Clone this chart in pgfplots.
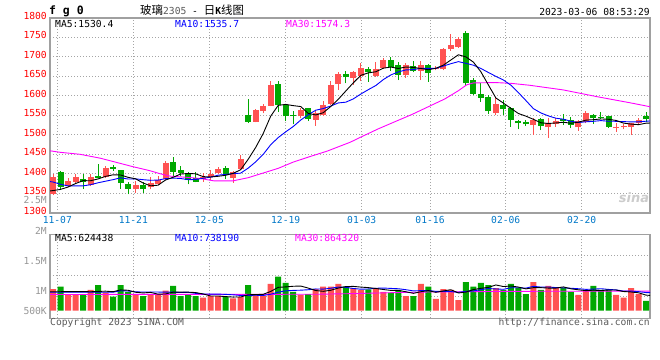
\documentclass[border=0pt]{standalone}
\usepackage{pgfplots}
\usepackage{pgfplotstable}
\pgfplotsset{compat=1.18}
\usepackage{fontspec}
\setmainfont{DejaVu Sans}
\setsansfont{DejaVu Sans}
\setmonofont{DejaVu Sans Mono}
\newfontfamily\cjk{Noto Sans CJK SC}
\definecolor{kred}{RGB}{255,82,82}
\definecolor{kgreen}{RGB}{0,168,0}
\definecolor{framec}{RGB}{160,160,160}
\definecolor{gridc}{RGB}{165,165,165}
\definecolor{lblred}{RGB}{255,0,0}
\definecolor{lblblue}{RGB}{0,120,200}
\definecolor{volgray}{RGB}{150,150,150}
\definecolor{txtgray}{RGB}{90,90,90}
\definecolor{mablue}{RGB}{0,0,255}
\definecolor{mamag}{RGB}{255,0,255}

% candles: x open high low close
\pgfplotstableread{
x o h l c
0 1347 1400 1345 1392
2 1369 1388 1365 1382
3 1380 1399 1376 1393
5 1371 1399 1368 1391
7 1391 1421 1389 1415
11 1360 1381 1352 1371
13 1366 1391 1360 1377
14 1374 1394 1371 1384
15 1386 1432 1384 1428
20 1386 1402 1380 1392
21 1392 1410 1384 1400
22 1403 1418 1400 1412
24 1390 1406 1377 1405
25 1412 1448 1410 1438
27 1534 1566 1532 1564
28 1561 1579 1555 1575
29 1575 1638 1573 1628
33 1547 1568 1542 1563
35 1538 1563 1523 1555
36 1551 1587 1548 1576
37 1579 1638 1576 1628
38 1630 1662 1616 1655
40 1646 1664 1628 1660
41 1652 1684 1638 1672
43 1652 1686 1649 1669
44 1672 1696 1669 1693
47 1653 1685 1646 1679
49 1664 1690 1640 1679
51 1668 1676 1665 1672
52 1668 1722 1665 1719
53 1719 1758 1716 1730
54 1725 1750 1723 1746
59 1555 1594 1551 1579
64 1525 1544 1500 1538
66 1521 1542 1493 1529
67 1528 1542 1521 1536
70 1519 1538 1511 1536
71 1534 1561 1529 1555
75 1517 1529 1508 1521
76 1519 1528 1514 1522
77 1521 1531 1500 1529
78 1529 1542 1525 1538
}\redK
\pgfplotstableread{
x o h l c
1 1404 1408 1362 1367
4 1387 1399 1361 1378
6 1394 1425 1388 1390
8 1417 1422 1408 1413
9 1410 1410 1362 1376
10 1374 1378 1347 1361
12 1371 1380 1352 1361
16 1430 1443 1395 1405
17 1410 1420 1395 1403
18 1401 1405 1373 1384
19 1388 1404 1378 1380
23 1416 1420 1386 1397
26 1551 1593 1530 1534
30 1630 1638 1558 1576
31 1576 1579 1535 1547
32 1551 1561 1527 1548
34 1568 1569 1535 1541
39 1656 1664 1632 1647
42 1669 1673 1636 1660
45 1692 1699 1664 1675
46 1679 1686 1640 1653
48 1676 1690 1660 1664
50 1679 1681 1636 1659
55 1762 1765 1625 1632
56 1640 1645 1603 1605
57 1605 1632 1585 1595
58 1598 1602 1553 1561
60 1576 1589 1551 1566
61 1570 1572 1521 1538
62 1535 1538 1514 1529
63 1534 1538 1522 1527
65 1540 1542 1512 1522
68 1540 1553 1525 1536
69 1538 1545 1517 1525
72 1551 1553 1528 1542
73 1546 1558 1540 1543
74 1547 1548 1517 1521
79 1549 1559 1534 1540
}\greenK

\pgfplotstableread{
x y
-0.4 1356
0 1357
1 1360
2 1366
3 1375
4 1382.4
5 1382.2
6 1386.8
7 1393.4
8 1397.4
9 1397.0
10 1391.0
11 1387.2
12 1376.4
13 1369.2
14 1370.8
15 1384.2
16 1391.0
17 1399.4
18 1400.8
19 1400.0
20 1392.8
21 1391.8
22 1393.6
23 1396.2
24 1401.2
25 1410.4
26 1437.2
27 1467.6
28 1503.2
29 1547.8
30 1575.4
31 1578.0
32 1574.8
33 1572.4
34 1555.0
35 1550.8
36 1556.6
37 1572.6
38 1591.0
39 1612.2
40 1633.2
41 1652.4
42 1658.8
43 1661.6
44 1670.8
45 1673.8
46 1670.0
47 1673.8
48 1672.8
49 1670.0
50 1666.8
51 1670.6
52 1678.6
53 1691.8
54 1705.2
55 1699.8
56 1686.4
57 1661.6
58 1627.8
59 1594.4
60 1581.2
61 1567.8
62 1554.6
63 1547.8
64 1539.6
65 1530.8
66 1529.0
67 1530.4
68 1532.2
69 1529.6
70 1532.4
71 1537.6
72 1538.8
73 1540.6
74 1539.8
75 1536.8
76 1530.0
77 1527.4
78 1526.0
79 1529.8
79.53 1530.2
}\maFive

\pgfplotstableread{
x y
-0.4 1380
0 1379
1 1373
2 1369
3 1369
4 1369
5 1372
6 1377
7 1381
8 1385
9 1389.7
10 1386.6
11 1387.0
12 1384.9
13 1383.3
14 1383.9
15 1387.6
16 1389.1
17 1387.9
18 1385.0
19 1385.4
20 1388.5
21 1391.4
22 1396.5
23 1398.5
24 1400.6
25 1401.6
26 1414.5
27 1430.6
28 1449.7
29 1474.5
30 1492.9
31 1507.6
32 1521.2
33 1537.8
34 1551.4
35 1563.1
36 1567.3
37 1573.7
38 1581.7
39 1583.6
40 1592.0
41 1604.5
42 1615.7
43 1626.3
44 1641.5
45 1653.5
46 1661.2
47 1666.3
48 1667.2
49 1670.4
50 1670.3
51 1670.3
52 1676.2
53 1682.3
54 1687.6
55 1683.3
56 1678.5
57 1670.1
58 1659.8
59 1649.8
60 1640.5
61 1627.1
62 1608.1
63 1587.8
64 1567.0
65 1556.0
66 1548.4
67 1542.5
68 1540.0
69 1534.6
70 1531.6
71 1533.3
72 1534.6
73 1536.4
74 1534.7
75 1534.6
76 1533.8
77 1533.1
78 1533.3
79 1534.8
79.53 1535.5
}\maTen

\pgfplotstableread{
x y
-0.4 1459
1 1455
3.6 1450
6.3 1440
8.9 1427
10.7 1418
12.9 1408
14.3 1400
15.6 1394
17.8 1391
19.6 1388
21.4 1382
24 1382
26 1390
28 1402
30 1414
32 1430
34.2 1444
36.5 1458
39.6 1481
41.1 1495
43.3 1515
45.6 1534
47.8 1552
50 1572
52.2 1592
54 1613
55.1 1628
56 1633
58.9 1634
61 1632
63.5 1627
68 1615
72.4 1598
76.9 1582
79.53 1572
}\maThirty

% volume (millions)
\pgfplotstableread{
x v
0 0.96
2 0.74
3 0.74
5 0.92
7 0.80
11 0.70
13 0.74
14 0.74
15 0.89
20 0.58
21 0.65
22 0.65
24 0.55
25 0.60
27 0.70
28 0.65
29 1.19
33 0.70
35 0.96
36 1.07
37 1.07
38 1.19
40 1.00
41 0.92
43 1.00
44 0.84
47 0.65
49 1.19
51 0.52
52 0.96
53 0.92
54 0.47
59 1.00
64 1.27
66 1.10
67 1.00
70 0.70
71 0.92
75 0.70
76 0.58
77 1.00
78 0.74
}\volR
\pgfplotstableread{
x v
1 1.07
4 0.74
6 1.14
8 0.62
9 1.14
10 0.84
12 0.65
16 1.10
17 0.65
18 0.74
19 0.65
23 0.60
26 1.14
30 1.51
31 1.24
32 0.84
34 0.74
39 1.07
42 0.95
45 0.80
46 0.92
48 0.65
50 1.07
55 1.27
56 1.07
57 1.24
58 1.14
60 0.92
61 1.19
62 1.00
63 0.74
65 0.92
68 1.00
69 0.84
72 1.10
73 0.92
74 0.96
79 0.44
}\volG

\pgfplotstableread{
x y
-0.4 0.84
3 0.85
4 0.850
5 0.842
6 0.856
7 0.868
8 0.844
9 0.924
10 0.908
11 0.820
12 0.790
13 0.814
14 0.734
15 0.744
16 0.824
17 0.824
18 0.824
19 0.806
20 0.744
21 0.654
22 0.654
23 0.626
24 0.606
25 0.610
26 0.708
27 0.718
28 0.728
29 0.856
30 1.038
31 1.058
32 1.086
33 1.096
34 1.006
35 0.896
36 0.862
37 0.908
38 1.006
39 1.072
40 1.080
41 1.050
42 1.026
43 0.988
44 0.942
45 0.902
46 0.902
47 0.842
48 0.772
49 0.842
50 0.896
51 0.816
52 0.878
53 0.932
54 0.788
55 0.828
56 0.938
57 0.994
58 1.038
59 1.144
60 1.074
61 1.098
62 1.050
63 0.970
64 1.024
65 1.024
66 1.006
67 1.006
68 1.058
69 0.972
70 0.928
71 0.892
72 0.912
73 0.896
74 0.920
75 0.920
76 0.852
77 0.832
78 0.796
79 0.692
79.53 0.68
}\vmaFive

\pgfplotstableread{
x y
-0.4 0.82
8 0.82
9 0.887
10 0.875
11 0.838
12 0.829
13 0.829
14 0.829
15 0.826
16 0.822
17 0.807
18 0.819
19 0.770
20 0.744
21 0.739
22 0.739
23 0.725
24 0.706
25 0.677
26 0.681
27 0.686
28 0.677
29 0.731
30 0.824
31 0.883
32 0.902
33 0.912
34 0.931
35 0.967
36 0.960
37 0.997
38 1.051
39 1.039
40 0.988
41 0.956
42 0.967
43 0.997
44 1.007
45 0.991
46 0.976
47 0.934
48 0.880
49 0.892
50 0.899
51 0.859
52 0.860
53 0.852
54 0.815
55 0.862
56 0.877
57 0.936
58 0.985
59 0.966
60 0.951
61 1.018
62 1.022
63 1.004
64 1.084
65 1.049
66 1.052
67 1.028
68 1.014
69 0.998
70 0.976
71 0.949
72 0.959
73 0.977
74 0.946
75 0.924
76 0.872
77 0.872
78 0.846
79 0.806
79.53 0.80
}\vmaTen

\pgfplotstableread{
x y
-0.4 0.72
35 0.73
40 0.76
45 0.80
50 0.83
55 0.84
60 0.86
79.53 0.87
}\vmaThirty

\pgfplotsset{
  kbase/.style={
    scale only axis, width=600bp,
    xmin=-0.4, xmax=79.53,
    xtick={0.573,10.698,20.823,31.0,41.127,50.226,60.31,70.437},
    grid=major,
    major grid style={gridc, line width=0.9bp, dash pattern=on 1bp off 2bp},
    axis line style={framec, line width=1.5bp},
    major tick length=0pt, tick style={draw=none},
    tick label style={font=\ttfamily\fontsize{9.7}{10}\selectfont, inner sep=0pt},
  },
  candle/.style={draw=none, mark=none, forget plot,
    error bars/.cd, y dir=plus, y explicit, error mark=none,
    error bar style={draw=#1, line width=1bp}},
  body/.style={draw=none, mark=none, forget plot,
    error bars/.cd, y dir=plus, y explicit, error mark=none,
    error bar style={draw=#1, line width=6bp}},
}

\begin{document}
\begin{tikzpicture}[font=\ttfamily\fontsize{9.7}{10}\selectfont]
\useasboundingbox (0,0) rectangle (660bp,360bp);
\fill[white] (0,0) rectangle (660bp,360bp);

% ---------- price panel ----------
\begin{axis}[kbase,
  at={(50bp,147.2bp)}, anchor=south west, height=195bp,
  ymin=1300, ymax=1800,
  ytick={1300,1350,1400,1450,1500,1550,1600,1650,1700,1750,1800},
  yticklabels={1300,1350,1400,1450,1500,1550,1600,1650,1700,1750,1800},
  yticklabel style={lblred, anchor=east, xshift=-3bp, yshift=2bp},
  xticklabels={11-07,11-21,12-05,12-19,01-03,01-16,02-06,02-20},
  xticklabel style={lblblue, anchor=center, yshift=-7bp},
]
\addplot[candle=kred] table[x=x, y=l, y error plus expr=\thisrow{h}-\thisrow{l}] {\redK};
\addplot[body=kred] table[x=x, y=o, y error plus expr=\thisrow{c}-\thisrow{o}] {\redK};
\addplot[candle=kgreen] table[x=x, y=l, y error plus expr=\thisrow{h}-\thisrow{l}] {\greenK};
\addplot[body=kgreen] table[x=x, y=c, y error plus expr=\thisrow{o}-\thisrow{c}] {\greenK};
\addplot[mamag, line width=0.9bp, mark=none] table[x=x,y=y] {\maThirty};
\addplot[mablue, line width=0.9bp, mark=none] table[x=x,y=y] {\maTen};
\addplot[black, line width=0.9bp, mark=none] table[x=x,y=y] {\maFive};
\end{axis}

% ---------- volume panel ----------
\begin{axis}[kbase,
  at={(50bp,41.7bp)}, anchor=south west, height=84bp,
  ymin=-0.338, ymax=3.396,
  ytick={0.653,1.564,2.476}, yticklabels={,,},
  extra y ticks={3.289,1.956,0.622,-0.267},
  extra y tick labels={2M,1.5M,1M,500K},
  extra y tick style={grid=none},
  yticklabel style={volgray, anchor=east, xshift=-3bp, yshift=6bp},
  xticklabels={,,,,,,,},
]
\addplot[ybar, bar width=6bp, bar shift=0pt, fill=kred, draw=none, forget plot] table[x=x, y=v] {\volR};
\addplot[ybar, bar width=6bp, bar shift=0pt, fill=kgreen, draw=none, forget plot] table[x=x, y=v] {\volG};
\addplot[mamag, line width=0.9bp, mark=none] table[x=x,y=y] {\vmaThirty};
\addplot[mablue, line width=0.9bp, mark=none] table[x=x,y=y] {\vmaTen};
\addplot[black, line width=0.9bp, mark=none] table[x=x,y=y] {\vmaFive};
\end{axis}

% ---------- texts ----------
\node[anchor=west, inner sep=0pt, font=\ttfamily\bfseries\fontsize{11.5}{12}\selectfont] at (49bp,349bp) {f g 0};
\node[anchor=west, inner sep=0pt] at (140bp,349.5bp) {{\cjk\fontsize{11.5}{12}\selectfont 玻璃}\textcolor{txtgray}{2305} - {\cjk\fontsize{11.5}{12}\selectfont 日}\textbf{K}{\cjk\fontsize{11.5}{12}\selectfont 线图}};
\node[anchor=east, inner sep=0pt] at (650bp,348.3bp) {2023-03-06 08:53:29};

\node[anchor=west, inner sep=0pt] at (55bp,336.5bp) {MA5:1530.4};
\node[anchor=west, inner sep=0pt, text=mablue] at (175bp,336.5bp) {MA10:1535.7};
\node[anchor=west, inner sep=0pt, text=mamag] at (286bp,336.5bp) {MA30:1574.3};

\node[anchor=west, inner sep=0pt] at (55bp,121.7bp) {MA5:624438};
\node[anchor=west, inner sep=0pt, text=mablue] at (175bp,121.7bp) {MA10:738190};
\node[anchor=west, inner sep=0pt, text=mamag] at (295bp,121.7bp) {MA30:864320};

\node[anchor=east, inner sep=0pt, text=volgray] at (47bp,160bp) {2.5M};

\node[anchor=west, inner sep=0pt, text=txtgray] at (50bp,37bp) {Copyright 2023 SINA.COM};
\node[anchor=east, inner sep=0pt, text=txtgray] at (650bp,37bp) {http://finance.sina.com.cn};

\node[inner sep=0pt, text=gray!40, font=\sffamily\bfseries\itshape\fontsize{13}{13}\selectfont] at (634bp,162bp) {sina};
\end{tikzpicture}
\end{document}
